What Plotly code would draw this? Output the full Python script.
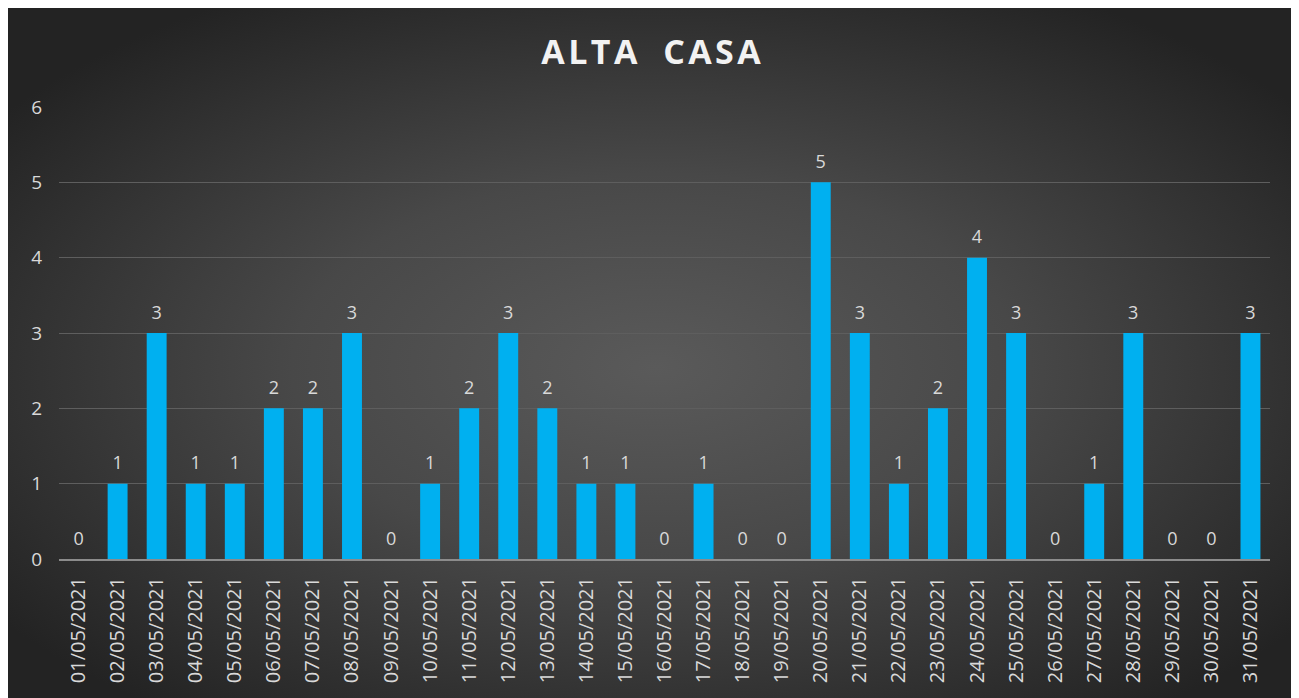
import base64
import plotly.graph_objects as go

dates = ["01/05/2021", "02/05/2021", "03/05/2021", "04/05/2021", "05/05/2021",
         "06/05/2021", "07/05/2021", "08/05/2021", "09/05/2021", "10/05/2021",
         "11/05/2021", "12/05/2021", "13/05/2021", "14/05/2021", "15/05/2021",
         "16/05/2021", "17/05/2021", "18/05/2021", "19/05/2021", "20/05/2021",
         "21/05/2021", "22/05/2021", "23/05/2021", "24/05/2021", "25/05/2021",
         "26/05/2021", "27/05/2021", "28/05/2021", "29/05/2021", "30/05/2021",
         "31/05/2021"]
values = [0, 1, 3, 1, 1, 2, 2, 3, 0, 1, 2, 3, 2, 1, 1, 0, 1, 0, 0, 5,
          3, 1, 2, 4, 3, 0, 1, 3, 0, 0, 3]
y_ticks = [0, 1, 2, 3, 4, 5, 6]
title = "A\u200aL\u200aT\u200aA \u2002C\u200aA\u200aS\u200aA"

# page body has an 8px margin, so figure coords = screen coords - 8
OFF = 8
W, H = 1299, 698
ml = 59 - OFF
mt = 107 - OFF
mr = W - (1270 - OFF)
mb = H - (559 - OFF)
pw = W - ml - mr
ph = H - mt - mb

svg = (
    '<svg xmlns="http://www.w3.org/2000/svg" width="1295" height="688" '
    'viewBox="0 0 1295 688" preserveAspectRatio="none">'
    '<defs><radialGradient id="g" cx="50%" cy="52%" r="62%" fx="50%" fy="52%">'
    '<stop offset="0%" stop-color="#5a5a5a"/>'
    '<stop offset="45%" stop-color="#484848"/>'
    '<stop offset="100%" stop-color="#232323"/>'
    '</radialGradient></defs>'
    '<rect width="1295" height="688" fill="url(#g)"/></svg>'
)
src = "data:image/svg+xml;base64," + base64.b64encode(svg.encode()).decode()

box_x0, box_x1, box_y0, box_y1 = 4 - OFF, 1299 - OFF + 8, 6 - OFF, 694 - OFF + 8
img_x = (box_x0 - ml) / pw
img_sx = (box_x1 - box_x0) / pw
img_y = (H - mb - box_y0) / ph
img_sy = (box_y1 - box_y0) / ph

fig = go.Figure()
fig.add_trace(go.Bar(
    x=dates, y=values,
    marker=dict(color="#00B0F0", line=dict(width=0)),
    hoverinfo="x+y",
))
fig.add_trace(go.Scatter(
    x=dates, y=values,
    mode="markers+text",
    marker=dict(size=14, opacity=0),
    text=[str(v) for v in values],
    textposition="top center",
    cliponaxis=False,
    textfont=dict(family="Open Sans", size=18, color="#d9d9d9"),
    hoverinfo="skip",
))

fig.update_layout(
    width=W, height=H,
    margin=dict(l=ml, r=mr, t=mt, b=mb),
    paper_bgcolor="white",
    plot_bgcolor="rgba(0,0,0,0)",
    bargap=0.49,
    showlegend=False,
    title=dict(text="<b>" + title + "</b>", x=(651 - OFF) / W, xanchor="center",
               xref="container", yref="container", y=1 - (52 - OFF) / H,
               yanchor="middle",
               font=dict(family="Open Sans", size=34, color="#f2f2f2")),
    images=[dict(source=src, xref="paper", yref="paper", x=img_x, y=img_y,
                 sizex=img_sx, sizey=img_sy, sizing="stretch",
                 xanchor="left", yanchor="top", layer="below")],
    xaxis=dict(type="category", tickangle=-90, showgrid=False,
               range=[-0.5, len(dates) - 0.5],
               showline=True, linecolor="#8c8c8c", linewidth=2,
               ticks="", ticklabelstandoff=8,
               tickfont=dict(family="Open Sans", size=20, color="#d9d9d9"),
               zeroline=False),
    yaxis=dict(range=[0, 6], tickvals=y_ticks, showgrid=True,
               gridcolor="#5e5e5e", gridwidth=1, zeroline=False,
               showline=False, ticks="", ticklabelstandoff=16,
               tickfont=dict(family="Open Sans", size=19, color="#d9d9d9")),
)

fig.write_html("out.html")
